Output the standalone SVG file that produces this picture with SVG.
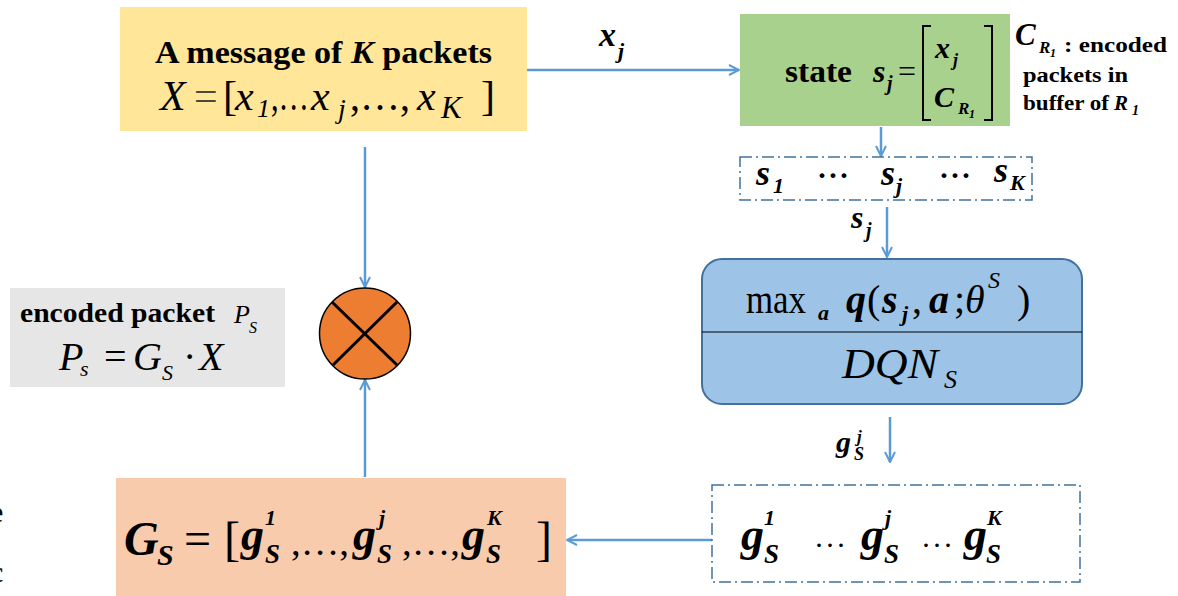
<svg xmlns="http://www.w3.org/2000/svg" width="1178" height="596" viewBox="0 0 1178 596" font-family="Liberation Serif, DejaVu Serif, Noto Serif, Times, serif">
<defs>
<style>
.b{font-weight:bold}
.i{font-style:italic}
.bi{font-weight:bold;font-style:italic}
.con{stroke:#5B9BD5;stroke-width:2.5;fill:none}
.dash{fill:#fff;stroke:#41719C;stroke-width:1.5;stroke-dasharray:12 4 2 4}
</style>
<marker id="ah" viewBox="0 0 10 10" refX="9" refY="5" markerWidth="5" markerHeight="5" orient="auto" markerUnits="strokeWidth">
<path d="M1,1 L9,5 L1,9" fill="none" stroke="#5B9BD5" stroke-width="1.6"/>
</marker>
</defs>
<rect width="1178" height="596" fill="#fff"/>

<g id="frag">
<text x="-10" y="522" font-size="30">e</text>
<text x="-10" y="582" font-size="30">c</text>
</g>

<g id="connectors">
<line class="con" x1="527" y1="70" x2="739" y2="70" marker-end="url(#ah)"/>
<line class="con" x1="881" y1="127" x2="881" y2="156" marker-end="url(#ah)"/>
<line class="con" x1="887" y1="207" x2="887" y2="257" marker-end="url(#ah)"/>
<line class="con" x1="890" y1="417" x2="890" y2="462" marker-end="url(#ah)"/>
<line class="con" x1="712" y1="540" x2="567" y2="540" marker-end="url(#ah)"/>
<line class="con" x1="365" y1="147" x2="365" y2="287" marker-end="url(#ah)"/>
<line class="con" x1="365" y1="477" x2="365" y2="380" marker-end="url(#ah)"/>
<text x="599" y="46" font-size="34" class="bi">x</text>
<text x="618" y="58" font-size="22" class="bi">j</text>
<text x="851" y="228" font-size="32" class="bi">s</text>
<text x="866" y="237" font-size="20" class="bi">j</text>
<text x="836" y="452" font-size="30" class="bi">g</text>
<text x="857" y="442" font-size="17" class="bi">j</text>
<text x="854" y="460" font-size="18" class="bi">S</text>
</g>

<g id="message">
<rect x="120" y="7" width="407" height="124" fill="#FFE699"/>
<text x="155" y="63" font-size="32" class="b" textLength="337" lengthAdjust="spacingAndGlyphs">A message of <tspan class="bi">K</tspan> packets</text>
<text x="160" y="110" font-size="42" class="i">X</text>
<text x="194" y="110" font-size="42" fill="#4a4a3a">=</text>
<text x="223" y="110" font-size="42">[</text>
<text x="235" y="110" font-size="42" class="i">x</text>
<text x="257" y="117" font-size="26" class="i">1</text>
<text x="271" y="110" font-size="42" textLength="38" lengthAdjust="spacingAndGlyphs">,…</text>
<text x="311" y="110" font-size="42" class="i">x</text>
<text x="338" y="118" font-size="28" class="i">j</text>
<text x="350" y="110" font-size="42" textLength="60" lengthAdjust="spacingAndGlyphs">,…,</text>
<text x="417" y="110" font-size="42" class="i">x</text>
<text x="441" y="118" font-size="31" class="i">K</text>
<text x="481" y="110" font-size="42">]</text>
</g>

<g id="state">
<rect x="740" y="14" width="270" height="112" fill="#A9D18E"/>
<text x="785" y="82" font-size="32" class="b" textLength="67" lengthAdjust="spacingAndGlyphs">state</text>
<text x="873" y="82" font-size="32" class="bi">s</text>
<text x="887" y="90" font-size="20" class="bi">j</text>
<text x="898" y="82" font-size="32">=</text>
<path d="M931,26 H923 V120 H931 M984,26 H992 V120 H984" fill="none" stroke="#000" stroke-width="2"/>
<text x="935" y="58" font-size="30" class="bi">x</text>
<text x="953" y="66" font-size="18" class="bi">j</text>
<text x="934" y="107" font-size="30" class="bi">C</text>
<text x="958" y="114" font-size="17" class="bi">R</text>
<text x="969" y="118" font-size="12" class="bi">1</text>
</g>

<g id="note">
<text x="1015" y="45" font-size="31" class="bi">C</text>
<text x="1039" y="53" font-size="17" class="bi">R</text>
<text x="1050" y="57" font-size="12" class="bi">1</text>
<text x="1064" y="52" font-size="21" class="b" textLength="103" lengthAdjust="spacingAndGlyphs">: encoded</text>
<text x="1023" y="82" font-size="21" class="b" textLength="105" lengthAdjust="spacingAndGlyphs">packets in</text>
<text x="1023" y="110" font-size="21" class="b" textLength="86" lengthAdjust="spacingAndGlyphs">buffer of</text>
<text x="1114" y="110" font-size="21" class="bi">R</text>
<text x="1132" y="115" font-size="14" class="bi">1</text>
</g>

<g id="states">
<rect class="dash" x="740" y="157" width="292" height="43"/>
<text x="756" y="185" font-size="36" class="bi">s</text>
<text x="773" y="193" font-size="22" class="bi">1</text>
<text x="817" y="185" font-size="30" class="b" letter-spacing="1">···</text>
<text x="881" y="185" font-size="36" class="bi">s</text>
<text x="896" y="193" font-size="22" class="bi">j</text>
<text x="939" y="185" font-size="30" class="b" letter-spacing="1">···</text>
<text x="994" y="182" font-size="36" class="bi">s</text>
<text x="1010" y="190" font-size="22" class="bi">K</text>
</g>

<g id="dqn">
<rect x="702" y="259" width="380" height="145" rx="20" fill="#9DC3E6" stroke="#41719C" stroke-width="2"/>
<line x1="702" y1="332" x2="1082" y2="332" stroke="#000" stroke-width="1"/>
<text x="746" y="313" font-size="40" textLength="60" lengthAdjust="spacingAndGlyphs">max</text>
<text x="818" y="320" font-size="22" class="bi">a</text>
<text x="846" y="313" font-size="40" class="bi">q</text>
<text x="867" y="313" font-size="40">(</text>
<text x="882" y="313" font-size="40" class="bi">s</text>
<text x="902" y="321" font-size="22" class="bi">j</text>
<text x="912" y="313" font-size="40">,</text>
<text x="929" y="313" font-size="40" class="bi">a</text>
<text x="954" y="313" font-size="40">;</text>
<text x="965" y="313" font-size="40" class="i">θ</text>
<text x="988" y="288" font-size="24" class="i">S</text>
<text x="1017" y="313" font-size="40">)</text>
<text x="842" y="378" font-size="42" class="i" textLength="96" lengthAdjust="spacingAndGlyphs">DQN</text>
<text x="944" y="388" font-size="26" class="i">S</text>
</g>

<g id="gvec">
<rect class="dash" x="712" y="485" width="368" height="97"/>
<text x="741" y="550" font-size="46" class="bi">g</text>
<text x="764" y="525" font-size="22" class="bi">1</text>
<text x="764" y="563" font-size="27" class="bi">S</text>
<text x="814" y="555" font-size="30" letter-spacing="1">···</text>
<text x="861" y="550" font-size="46" class="bi">g</text>
<text x="885" y="525" font-size="22" class="bi">j</text>
<text x="884" y="563" font-size="27" class="bi">S</text>
<text x="921" y="555" font-size="30" letter-spacing="1">···</text>
<text x="964" y="550" font-size="46" class="bi">g</text>
<text x="987" y="525" font-size="22" class="bi">K</text>
<text x="986" y="563" font-size="27" class="bi">S</text>
</g>

<g id="gs">
<rect x="116" y="478" width="450" height="118" fill="#F8CBAD"/>
<text x="124" y="555" font-size="48" class="bi">G</text>
<text x="157" y="565" font-size="30" class="bi">S</text>
<text x="184" y="555" font-size="48">=</text>
<text x="224" y="555" font-size="48">[</text>
<text x="241" y="550" font-size="46" class="bi">g</text>
<text x="265" y="525" font-size="22" class="bi">1</text>
<text x="265" y="563" font-size="27" class="bi">S</text>
<text x="291" y="555" font-size="38" textLength="58" lengthAdjust="spacingAndGlyphs">,…,</text>
<text x="353" y="550" font-size="46" class="bi">g</text>
<text x="379" y="525" font-size="22" class="bi">j</text>
<text x="377" y="563" font-size="27" class="bi">S</text>
<text x="402" y="555" font-size="38" textLength="58" lengthAdjust="spacingAndGlyphs">,…,</text>
<text x="462" y="550" font-size="46" class="bi">g</text>
<text x="487" y="525" font-size="22" class="bi">K</text>
<text x="486" y="563" font-size="27" class="bi">S</text>
<text x="536" y="555" font-size="48">]</text>
</g>

<g id="mult">
<circle cx="365" cy="333.5" r="45.5" fill="#ED7D31" stroke="#000" stroke-width="1.5"/>
<line x1="332" y1="302" x2="397" y2="365" stroke="#000" stroke-width="3"/>
<line x1="397" y1="302" x2="333" y2="365" stroke="#000" stroke-width="3"/>
</g>

<g id="encoded">
<rect x="10" y="288" width="275" height="99" fill="#E7E6E6"/>
<text x="20" y="322" font-size="27" class="b" textLength="195" lengthAdjust="spacingAndGlyphs">encoded packet</text>
<text x="234" y="323" font-size="26" class="i">P</text>
<text x="249" y="333" font-size="16" class="i">S</text>
<text x="59" y="370" font-size="40" class="i">P</text>
<text x="80" y="376" font-size="22" class="i">s</text>
<text x="104" y="370" font-size="40">=</text>
<text x="133" y="370" font-size="40" class="i">G</text>
<text x="162" y="380" font-size="22" class="i">S</text>
<text x="183" y="370" font-size="40">·</text>
<text x="199" y="370" font-size="40" class="i">X</text>
</g>
</svg>
